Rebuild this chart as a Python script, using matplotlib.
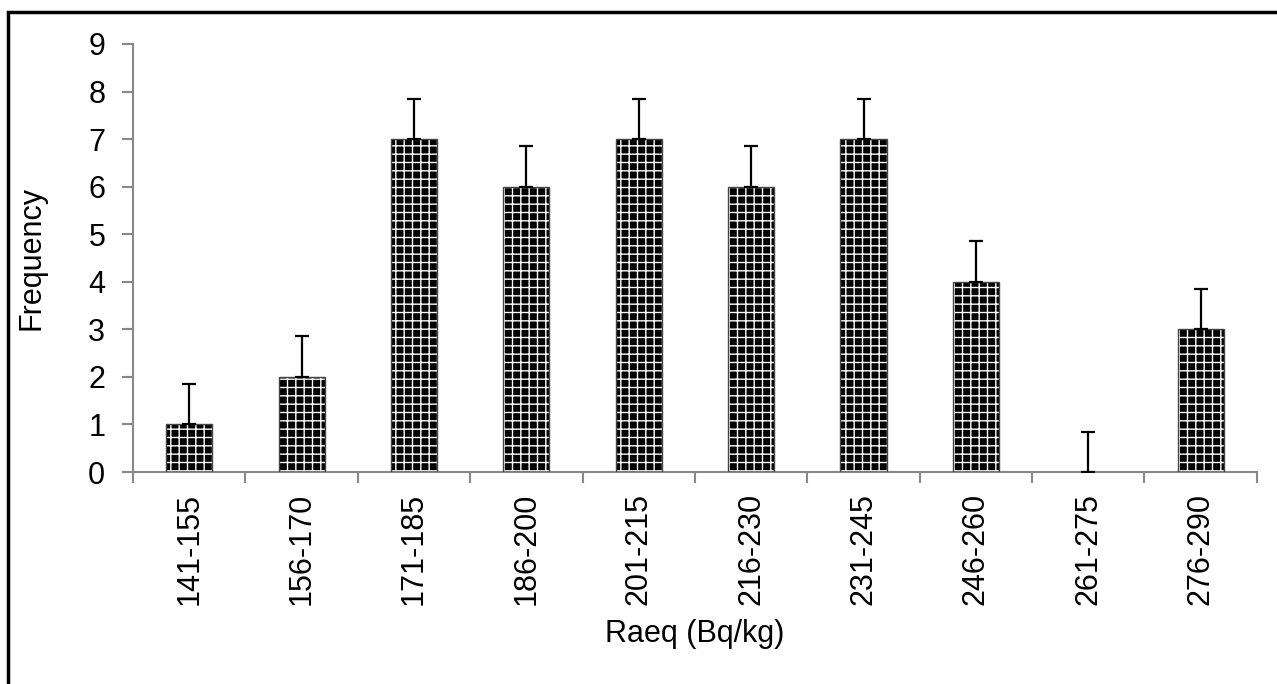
import matplotlib
matplotlib.use("Agg")
import matplotlib.pyplot as plt
from matplotlib.patches import Rectangle
import numpy as np

categories = ["141-155", "156-170", "171-185", "186-200", "201-215",
              "216-230", "231-245", "246-260", "261-275", "276-290"]
frequency = [1, 2, 7, 6, 7, 6, 7, 4, 0, 3]
error_up = [0.85] * 10

plt.rcParams['font.family'] = ['Liberation Sans', 'DejaVu Sans']
plt.rcParams['hatch.linewidth'] = 1.0

fig = plt.figure(figsize=(12.77, 6.84), dpi=100)
ax = fig.add_axes([0.1042, 0.3099, 0.880, 0.6258])

x = np.arange(len(categories))
width = 0.41
bar_vals = np.array(frequency, dtype=float)
has_bar = bar_vals > 0

# patterned fill: black face with white hatch
ax.bar(x[has_bar], bar_vals[has_bar], width, color='black', edgecolor='white',
       hatch='++', linewidth=0, zorder=2)
# outline on top
ax.bar(x[has_bar], bar_vals[has_bar], width, facecolor='none',
       edgecolor='#444444', linewidth=1.0, zorder=3)
ax.errorbar(x, frequency, yerr=[np.zeros(len(frequency)), error_up], fmt='none',
            ecolor='black', elinewidth=1.6, capsize=5, capthick=1.6, zorder=4)

ax.set_xlim(-0.5, len(categories) - 0.5)
ax.set_ylim(0, 9)
ax.set_yticks(range(0, 10))
ax.set_xticks(x)
ax.set_xticklabels(categories, rotation=90)
ax.set_xticks(np.arange(-0.5, len(categories)), minor=True)
ax.tick_params(axis='x', which='major', length=0, pad=15, labelsize=22)
ax.tick_params(axis='x', which='minor', length=8, color='#888888', width=1.5)
ax.tick_params(axis='y', length=8, color='#888888', width=1.5, labelsize=22, pad=12)

for side in ('top', 'right'):
    ax.spines[side].set_visible(False)
for side in ('left', 'bottom'):
    ax.spines[side].set_color('#888888')
    ax.spines[side].set_linewidth(1.5)

ax.set_xlabel("Raeq (Bq/kg)", fontsize=22, labelpad=10)
ax.set_ylabel("Frequency", fontsize=22, labelpad=30)

# outer frame
fig.patches.append(Rectangle((8 / 1277, -0.05), 1.1, 1 - 12 / 684 + 0.05,
                             transform=fig.transFigure, fill=False,
                             edgecolor='black', linewidth=2.5))

fig.savefig("out.png", dpi=100)
